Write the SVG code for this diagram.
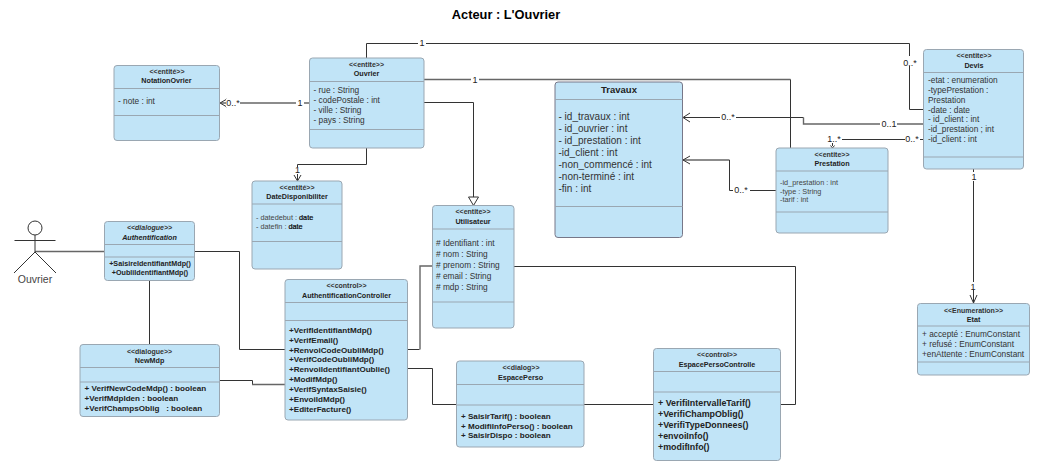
<svg xmlns="http://www.w3.org/2000/svg" width="1039" height="468" viewBox="0 0 1039 468">
<style>
text{font-family:"Liberation Sans",Arial,sans-serif;fill:#222}
.box{fill:#c1e4f7;stroke:#9aa7b2;stroke-width:1}
.div{stroke:#9aa7b2;stroke-width:1}
.s{font-size:7px;font-weight:bold;text-anchor:middle;fill:#333}
.n{font-size:7.200px;font-weight:bold;text-anchor:middle}
.i{font-style:italic}
.a8{font-size:8.300px;fill:#333}
.a7{font-size:7.300px;fill:#444}
.d{fill:#000;stroke:#000;stroke-width:.2}
.a10{font-size:10px;fill:#333}
.b8{font-size:8.100px;font-weight:bold}
.b7{font-size:7.200px;font-weight:bold;text-anchor:middle}
.b9{font-size:8.900px;font-weight:bold}
.l{font-size:9px;text-anchor:middle}
.c{fill:none;stroke:#333;stroke-width:1}
.g{fill:none;stroke:#666;stroke-width:1.400}
.ah{fill:none;stroke:#333;stroke-width:1}
.lb{fill:#fff;stroke:none}
</style>
<text x="506" y="19" style="font-size:12.800px;font-weight:bold;text-anchor:middle;fill:#000">Acteur : L'Ouvrier</text>

<g id="connectors">
<path class="c" d="M366.500 58V43.500H909.500V109.500H923.500"/>
<path class="g" d="M424 79.500H790.500"/>
<path class="c" d="M790.500 79.500V148"/>
<path class="c" d="M424 102.500H473.500V197"/>
<path class="ah" d="M468.500 197H478.500L473.500 205.500Z" style="fill:#fff"/>
<path class="g" d="M309.500 103H221"/>
<path class="ah" d="M227 99L220 103L227 107"/>
<path class="c" d="M366.500 148V164.500H297.500V181"/>
<path class="ah" d="M294 175L297.500 181L301 175"/>
<path class="c" d="M684 117.500H803.500"/>
<path class="g" d="M803.500 117.500V124H923.500"/>
<path class="ah" d="M690 113L683 117.500L690 122"/>
<path class="g" d="M683 160H729.500"/>
<path class="c" d="M729.500 160V190.500H776"/>
<path class="ah" d="M690 156L683 160L690 164"/>
<path class="c" d="M923.500 139.500H832.500V146"/>
<path class="c" d="M830.500 145.500L832.500 148L834.500 145.500"/>
<path class="c" d="M973.500 169V303"/>
<path class="ah" d="M970 295L973.500 303L977 295"/>
<path class="g" d="M35 251.500H104.500"/>
<path class="c" d="M194.500 251.500H239.500V349.500H285"/>
<path class="c" d="M149.500 280.500V344.500"/>
<path class="c" d="M219.500 380.500H252.500V384.500"/>
<path class="g" d="M252 384.500H285"/>
<path class="c" d="M407.500 349.500H419.500"/>
<path class="g" d="M420 349.500V266H432.500"/>
<path class="c" d="M407.500 368.500H432.500V404.500H456.500"/>
<path class="c" d="M584 404.500H653.500"/>
<path class="c" d="M780 404.500H795.500V266.500H514"/>
<rect class="lb" x="418" y="39" width="8" height="8"/><text class="l" x="422" y="46">1</text>
<rect class="lb" x="903" y="56" width="14" height="10"/><text class="l" x="910" y="65.500">0..*</text>
<rect class="lb" x="471" y="75" width="8" height="8"/><text class="l" x="475" y="82.500">1</text>
<rect class="lb" x="296" y="99" width="8" height="8"/><text class="l" x="300" y="106">1</text>
<rect class="lb" x="226" y="99" width="14" height="8"/><text class="l" x="233" y="105.500">0..*</text>
<rect class="lb" x="293" y="167" width="8" height="7"/><text class="l" x="297.500" y="173">1</text>
<rect class="lb" x="720" y="112" width="16" height="9"/><text class="l" x="728" y="120">0..*</text>
<rect class="lb" x="880" y="120" width="17" height="9"/><text class="l" x="889" y="127">0..1</text>
<rect class="lb" x="733" y="185" width="17" height="9"/><text class="l" x="741" y="192.500">0..*</text>
<rect class="lb" x="826" y="134" width="16" height="9"/><text class="l" x="834" y="141.500">1..*</text>
<rect class="lb" x="905" y="134" width="15" height="9"/><text class="l" x="912" y="141.500">0..*</text>
<rect class="lb" x="970" y="172" width="8" height="9"/><text class="l" x="974" y="180">1</text>
<rect class="lb" x="969" y="282" width="8" height="8"/><text class="l" x="973" y="289.500">1</text>
</g>

<g id="actor-ouvrier" style="fill:none;stroke:#333;stroke-width:1">
<circle cx="35" cy="228" r="7" fill="#fff"/>
<path d="M35 235V252M14.500 240.500H55.500M35 252L14 273M35 252L56 273"/>
<text x="35" y="283" style="font-size:10.500px;text-anchor:middle;stroke:none;fill:#444">Ouvrier</text>
</g>

<g id="notationovrier">
<rect class="box" x="114" y="65.500" width="105.500" height="75" rx="3"/>
<path class="div" d="M114 88.500H219.500M114 115.500H219.500"/>
<text class="s" x="167" y="73.500">&lt;&lt;entité&gt;&gt;</text>
<text class="n" x="166.500" y="83">NotationOvrier</text>
<text class="a8" x="118" y="104">- note : int</text>
</g>

<g id="ouvrier">
<rect class="box" x="309.500" y="58" width="114.500" height="90" rx="3"/>
<path class="div" d="M309.500 81.500H424M309.500 129.500H424"/>
<text class="s" x="366.500" y="66.500">&lt;&lt;entite&gt;&gt;</text>
<text class="n" x="366.500" y="76">Ouvrier</text>
<text class="a8" x="313.500" y="93">- rue  : String</text>
<text class="a8" x="313.500" y="103">- codePostale : int</text>
<text class="a8" x="313.500" y="113">- ville : String</text>
<text class="a8" x="313.500" y="123">- pays : String</text>
</g>

<g id="datedisponibiliter">
<rect class="box" x="252" y="181" width="90" height="88" rx="3"/>
<path class="div" d="M252 204H342M252 241.500H342"/>
<text class="s" x="297" y="189.500">&lt;&lt;entité&gt;&gt;</text>
<text class="n" x="297" y="199">DateDisponibiliter</text>
<text class="a7" x="256" y="220">- datedebut : <tspan class="d">date</tspan></text>
<text class="a7" x="256" y="229">- datefin : <tspan class="d">date</tspan></text>
</g>

<g id="utilisateur">
<rect class="box" x="432.500" y="205.500" width="81.500" height="122.500" rx="3"/>
<path class="div" d="M432.500 229H514M432.500 302H514"/>
<text class="s" x="473" y="214">&lt;&lt;entite&gt;&gt;</text>
<text class="n" x="473" y="223.500">Utilisateur</text>
<text class="a8" x="436" y="245.500"># Identifiant : int</text>
<text class="a8" x="436" y="256.500"># nom : String</text>
<text class="a8" x="436" y="267.500"># prenom : String</text>
<text class="a8" x="436" y="278.500"># email : String</text>
<text class="a8" x="436" y="289.500"># mdp : String</text>
</g>

<g id="travaux">
<rect class="box" x="555" y="82" width="127.500" height="155.500" rx="3" style="stroke:#778"/>
<path class="div" d="M555 99.500H682.500M555 206.500H682.500"/>
<text x="619" y="92.500" style="font-size:9.500px;font-weight:bold;text-anchor:middle">Travaux</text>
<text class="a10" x="558.500" y="119.500">- id_travaux : int</text>
<text class="a10" x="558.500" y="131.500">- id_ouvrier : int</text>
<text class="a10" x="558.500" y="143.500">- id_prestation : int</text>
<text class="a10" x="558.500" y="155.500">-id_client : int</text>
<text class="a10" x="558.500" y="167.500">-non_commencé : int</text>
<text class="a10" x="558.500" y="179.500">-non-terminé : int</text>
<text class="a10" x="558.500" y="191.500">-fin : int</text>
</g>

<g id="prestation">
<rect class="box" x="776" y="148" width="112" height="85" rx="3"/>
<path class="div" d="M776 171H888M776 212H888"/>
<text class="s" x="832" y="156.500">&lt;&lt;entite&gt;&gt;</text>
<text class="n" x="832" y="166">Prestation</text>
<text class="a7" x="780" y="185">-id_prestation : int</text>
<text class="a7" x="780" y="193.500">-type : String</text>
<text class="a7" x="780" y="202">-tarif : int</text>
</g>

<g id="devis">
<rect class="box" x="923.500" y="49.500" width="100" height="119.500" rx="3"/>
<path class="div" d="M923.500 72.500H1023.500M923.500 157H1023.500"/>
<text class="s" x="974" y="58">&lt;&lt;entite&gt;&gt;</text>
<text class="n" x="974" y="67.500">Devis</text>
<text class="a8" x="928" y="82.500">-etat : enumeration</text>
<text class="a8" x="928" y="92.500">-typePrestation :</text>
<text class="a8" x="928" y="102.500">Prestation</text>
<text class="a8" x="928" y="112.500">-date : date</text>
<text class="a8" x="928" y="121.500">- id_client : int</text>
<text class="a8" x="928" y="131.500">-id_prestation ; int</text>
<text class="a8" x="928" y="141.500">-id_client : int</text>
</g>

<g id="etat">
<rect class="box" x="917.500" y="303.500" width="112" height="71.500" rx="3"/>
<path class="div" d="M917.500 326H1029.500M917.500 362H1029.500"/>
<text class="s" x="973.500" y="313">&lt;&lt;Enumeration&gt;&gt;</text>
<text class="n" x="973.500" y="322">Etat</text>
<text class="a8" x="922" y="337">+ accepté : EnumConstant</text>
<text class="a8" x="922" y="347">+ refusé : EnumConstant</text>
<text class="a8" x="922" y="357">+enAttente : EnumConstant</text>
</g>

<g id="authentification">
<rect class="box" x="104.500" y="221.500" width="90" height="59" rx="3"/>
<path class="div" d="M104.500 244.500H194.500M104.500 257H194.500"/>
<text class="s i" x="149.500" y="230">&lt;&lt;dialogue&gt;&gt;</text>
<text class="n i" x="149.500" y="240">Authentification</text>
<text class="b7" x="150" y="266">+SaisireIdentifiantMdp()</text>
<text class="b7" x="150" y="275">+OubliIdentifiantMdp()</text>
</g>

<g id="newmdp">
<rect class="box" x="80" y="344.500" width="139.500" height="72" rx="3"/>
<path class="div" d="M80 367.500H219.500M80 382H219.500"/>
<text class="s" x="149.500" y="353.500">&lt;&lt;dialogue&gt;&gt;</text>
<text class="n" x="149.500" y="363">NewMdp</text>
<text class="b8" x="84.500" y="390.500">+ VerifNewCodeMdp() : boolean</text>
<text class="b8" x="84.500" y="400.500">+VerifMdpIden : boolean</text>
<text class="b8" x="84.500" y="410.500">+VerifChampsOblig&#160;&#160; : boolean</text>
</g>

<g id="authentificationcontroller">
<rect class="box" x="285" y="279.500" width="122.500" height="140.500" rx="3"/>
<path class="div" d="M285 302.500H407.500M285 320.500H407.500"/>
<text class="s" x="346.500" y="288">&lt;&lt;control&gt;&gt;</text>
<text class="n" x="346.500" y="297.500">AuthentificationController</text>
<text class="b8" x="289" y="332.500">+VerifIdentifiantMdp()</text>
<text class="b8" x="289" y="342.500">+VerifEmail()</text>
<text class="b8" x="289" y="352.500">+RenvoiCodeOubliMdp()</text>
<text class="b8" x="289" y="361.500">+VerifCodeOubliMdp()</text>
<text class="b8" x="289" y="371.500">+RenvoiIdentifiantOublie()</text>
<text class="b8" x="289" y="381.500">+ModifMdp()</text>
<text class="b8" x="289" y="391.500">+VerifSyntaxSaisie()</text>
<text class="b8" x="289" y="401.500">+EnvoiIdMdp()</text>
<text class="b8" x="289" y="411.500">+EditerFacture()</text>
</g>

<g id="espaceperso">
<rect class="box" x="456.500" y="361" width="127.500" height="86" rx="3"/>
<path class="div" d="M456.500 384.500H584M456.500 405H584"/>
<text class="s" x="521" y="370">&lt;&lt;dialog&gt;&gt;</text>
<text class="n" x="520.500" y="379.500">EspacePerso</text>
<text class="b8" x="461" y="418.500">+ SaisirTarif() : boolean</text>
<text class="b8" x="461" y="428.500">+ ModifiInfoPerso() : boolean</text>
<text class="b8" x="461" y="437.500">+ SaisirDispo : boolean</text>
</g>

<g id="espacepersocontroile">
<rect class="box" x="653.500" y="348.500" width="127" height="112" rx="3"/>
<path class="div" d="M653.500 371.500H780.500M653.500 392H780.500"/>
<text class="s" x="717" y="357">&lt;&lt;control&gt;&gt;</text>
<text class="n" x="717" y="366.500">EspacePersoControlle</text>
<text class="b9" x="658" y="406">+ VerifiIntervalleTarif()</text>
<text class="b9" x="658" y="417">+VerifiChampOblig()</text>
<text class="b9" x="658" y="428">+VerifiTypeDonnees()</text>
<text class="b9" x="658" y="439">+envoiInfo()</text>
<text class="b9" x="658" y="450">+modifInfo()</text>
</g>
</svg>
